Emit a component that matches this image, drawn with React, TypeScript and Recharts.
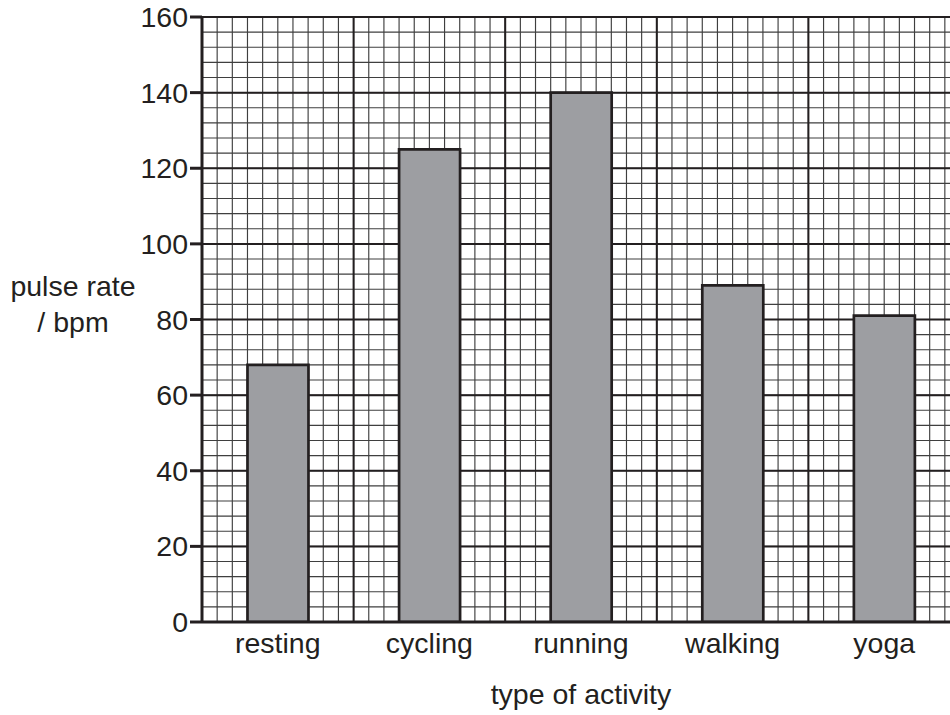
import React from "react";
import { BarChart, Bar, XAxis, YAxis, CartesianGrid, Label } from "recharts";

const activities = ["resting", "cycling", "running", "walking", "yoga"];
const pulseRates = [68, 125, 140, 89, 81];
const yTicks = [0, 20, 40, 60, 80, 100, 120, 140, 160];
const Y_MAX = 160;
const MINOR_Y_STEP = 4;
const MAJOR_Y_STEP = 20;
const MINOR_X_PER_BAND = 10;

const minorYValues = Array.from({ length: Y_MAX / MINOR_Y_STEP + 1 }, (_, i) => i * MINOR_Y_STEP);
const majorYValues = Array.from({ length: Y_MAX / MAJOR_Y_STEP + 1 }, (_, i) => i * MAJOR_Y_STEP);

const data = activities.map((a, i) => ({ activity: a, pulse: pulseRates[i] }));

const FONT = "'Liberation Sans', Arial, Helvetica, sans-serif";
const INK = "#231f20";

function yPositions(args: any, values: number[]) {
  const { yAxis, offset } = args || {};
  const sc = yAxis && typeof yAxis.scale === "function" ? yAxis.scale : null;
  return values.map((v) => {
    if (sc) return sc(v);
    return offset.top + offset.height * (1 - v / Y_MAX);
  });
}

function xPositions(args: any, perBand: number) {
  const { offset } = args || {};
  const n = activities.length * perBand;
  const step = offset.width / n;
  return Array.from({ length: n + 1 }, (_, i) => offset.left + i * step);
}

const minorH = (args: any) => yPositions(args, minorYValues);
const majorH = (args: any) => yPositions(args, majorYValues);
const minorV = (args: any) => xPositions(args, MINOR_X_PER_BAND);
const majorV = (args: any) => xPositions(args, 1);

export default function App() {
  return (
    <div
      style={{
        position: "absolute",
        left: 0,
        top: 0,
        width: 950,
        height: 715,
        overflow: "hidden",
        background: "#fff",
      }}
    >
      <BarChart
        width={960}
        height={715}
        data={data}
        margin={{ top: 17, right: 0, left: 0, bottom: 0 }}
        barCategoryGap="30%"
        style={{ fontFamily: FONT }}
      >
        <CartesianGrid
          horizontalCoordinatesGenerator={minorH}
          verticalCoordinatesGenerator={minorV}
          stroke="#3f3f3f"
          strokeWidth={1.15}
        />
        <CartesianGrid
          horizontalCoordinatesGenerator={majorH}
          verticalCoordinatesGenerator={majorV}
          stroke={INK}
          strokeWidth={2}
        />
        <XAxis
          dataKey="activity"
          height={93}
          tickLine={false}
          tickSize={0}
          tickMargin={11}
          axisLine={{ stroke: INK, strokeWidth: 3 }}
          tick={{ fontSize: 28.5, fill: INK, fontFamily: FONT }}
          interval={0}
        >
          <Label
            value="type of activity"
            position="insideBottom"
            offset={11}
            style={{ fontSize: 28.5, fill: INK, fontFamily: FONT }}
          />
        </XAxis>
        <YAxis
          type="number"
          domain={[0, Y_MAX]}
          ticks={yTicks}
          width={202}
          tickSize={12}
          tickMargin={2}
          axisLine={{ stroke: INK, strokeWidth: 3 }}
          tickLine={{ stroke: INK, strokeWidth: 3 }}
          tick={{ fontSize: 28.5, fill: INK, fontFamily: FONT }}
          allowDataOverflow
        >
          <Label
            content={() => (
              <text textAnchor="middle" fontSize={28.5} fill={INK} fontFamily={FONT}>
                <tspan x={73} y={296}>pulse rate</tspan>
                <tspan x={73} y={332}>/ bpm</tspan>
              </text>
            )}
          />
        </YAxis>
        <Bar
          dataKey="pulse"
          fill="#9d9ea2"
          stroke={INK}
          strokeWidth={2.7}
          isAnimationActive={false}
        />
      </BarChart>
    </div>
  );
}
